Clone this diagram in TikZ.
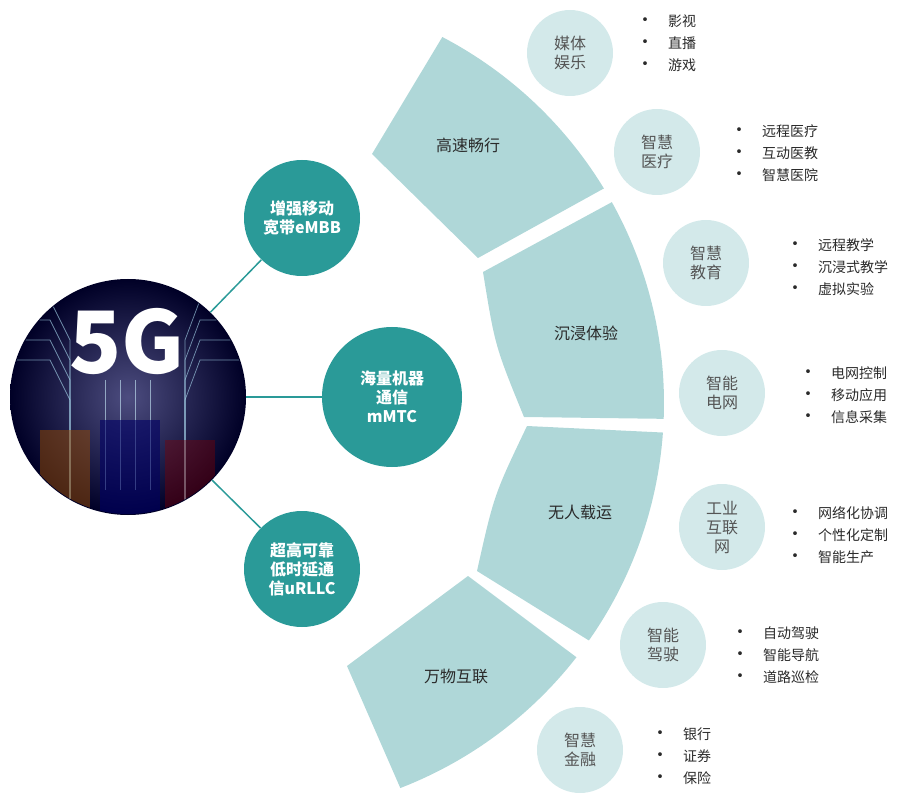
\documentclass[tikz,border=0pt]{standalone}
\usepackage{fontspec}
\setmainfont{Noto Sans CJK SC}
\begin{document}
\begin{tikzpicture}[x=1pt,y=-1pt,
  seg/.style={fill=segc,draw=none},
  big/.style={circle,fill=tealc,minimum size=116pt,inner sep=0pt,align=center,text=white,font=\bfseries\fontsize{16}{19}\selectfont},
  sm/.style={circle,fill=smc,minimum size=86pt,inner sep=0pt,align=center,text=txtc,font=\fontsize{16}{19}\selectfont},
  lbl/.style={font=\fontsize{16}{19}\selectfont,text=darkc},
  lst/.style={anchor=west,font=\fontsize{14}{22}\selectfont,text=darkc,align=left,inner sep=0pt},
  con/.style={draw=tealc,line width=1.5pt}]
\definecolor{segc}{HTML}{AFD7D8}
\definecolor{tealc}{HTML}{2A9A98}
\definecolor{smc}{HTML}{D3E9EA}
\definecolor{txtc}{HTML}{555555}
\definecolor{darkc}{HTML}{2A2A2A}
\newcommand{\bul}{{\fontsize{18}{22}\selectfont •}\quad }
\useasboundingbox (0,0) rectangle (914,805);
% segments
\fill[segc] (372,154) -- ([shift={(251,403)}]-62.4:413) arc[start angle=-62.4,end angle=-31.3,radius=413] -- (478,258) -- cycle;
\fill[segc] (483,272) -- ([shift={(251,403)}]-29.1:413) arc[start angle=-29.1,end angle=2.2,radius=413] -- (524,417) .. controls (495,346) .. (483,272) -- cycle;
\fill[segc] (527,426) -- ([shift={(251,403)}]4.1:413) arc[start angle=4.1,end angle=35.1,radius=413] -- (477,571) .. controls (494,495) .. (527,426) -- cycle;
\fill[segc] (468,576) -- ([shift={(251,403)}]38:413) arc[start angle=38,end angle=68.8,radius=413] -- (347,666) -- cycle;
\node[lbl] (s1) at (468,145) {高速畅行};
\node[lbl] (s2) at (586,333) {沉浸体验};
\node[lbl] (s3) at (580,512) {无人载运};
\node[lbl] (s4) at (456,676) {万物互联};
% 5G circle
\node[circle,minimum size=236pt,inner sep=0pt,inner color=black!50!blue!40!gray,outer color=black!85!blue] (g5) at (128,397) {};
\begin{scope}
\clip (128,397) circle (117);
\foreach \yy in {300,320,340,360}{
  \draw[cyan!30,opacity=.6,line width=.7pt] (0,\yy) -- (50,\yy) -- (70,\yy+40) -- (70,500);
  \draw[cyan!30,opacity=.6,line width=.7pt] (256,\yy) -- (200,\yy) -- (185,\yy+40) -- (185,500);}
\foreach \xx in {105,120,135,150}{
  \draw[cyan!20,opacity=.6,line width=.7pt] (\xx,380) -- (\xx,490);}
\fill[orange!60!black,opacity=.5] (40,430) rectangle (90,520);
\fill[blue!40!black,opacity=.6] (100,420) rectangle (160,520);
\fill[red!50!black,opacity=.4] (165,440) rectangle (215,520);
\end{scope}
\node[text=white,font=\bfseries\fontsize{86}{86}\selectfont] (t5g) at (127,342) {5G};
% big teal circles
\node[big] (embb) at (302,218) {增强移动\\宽带eMBB};
\node[big,minimum size=140pt] (mmtc) at (392,397) {海量机器\\通信\\mMTC};
\node[big] (urllc) at (302,569) {超高可靠\\低时延通\\信uRLLC};
\draw[con] (g5) -- (embb);
\draw[con] (g5) -- (mmtc);
\draw[con] (g5) -- (urllc);
% small circles
\node[sm] (c1) at (570,53) {媒体\\娱乐};
\node[sm] (c2) at (657,152) {智慧\\医疗};
\node[sm] (c3) at (706,263) {智慧\\教育};
\node[sm] (c4) at (722,393) {智能\\电网};
\node[sm] (c5) at (722,527) {工业\\互联\\网};
\node[sm] (c6) at (663,645) {智能\\驾驶};
\node[sm] (c7) at (580,750) {智慧\\金融};
% lists
\node[lst] (l1) at (636,43) {\bul 影视\\\bul 直播\\\bul 游戏};
\node[lst] (l2) at (730,153) {\bul 远程医疗\\\bul 互动医教\\\bul 智慧医院};
\node[lst] (l3) at (786,267) {\bul 远程教学\\\bul 沉浸式教学\\\bul 虚拟实验};
\node[lst] (l4) at (799,395) {\bul 电网控制\\\bul 移动应用\\\bul 信息采集};
\node[lst] (l5) at (786,535) {\bul 网络化协调\\\bul 个性化定制\\\bul 智能生产};
\node[lst] (l6) at (731,655) {\bul 自动驾驶\\\bul 智能导航\\\bul 道路巡检};
\node[lst] (l7) at (651,756) {\bul 银行\\\bul 证券\\\bul 保险};
\end{tikzpicture}
\end{document}
